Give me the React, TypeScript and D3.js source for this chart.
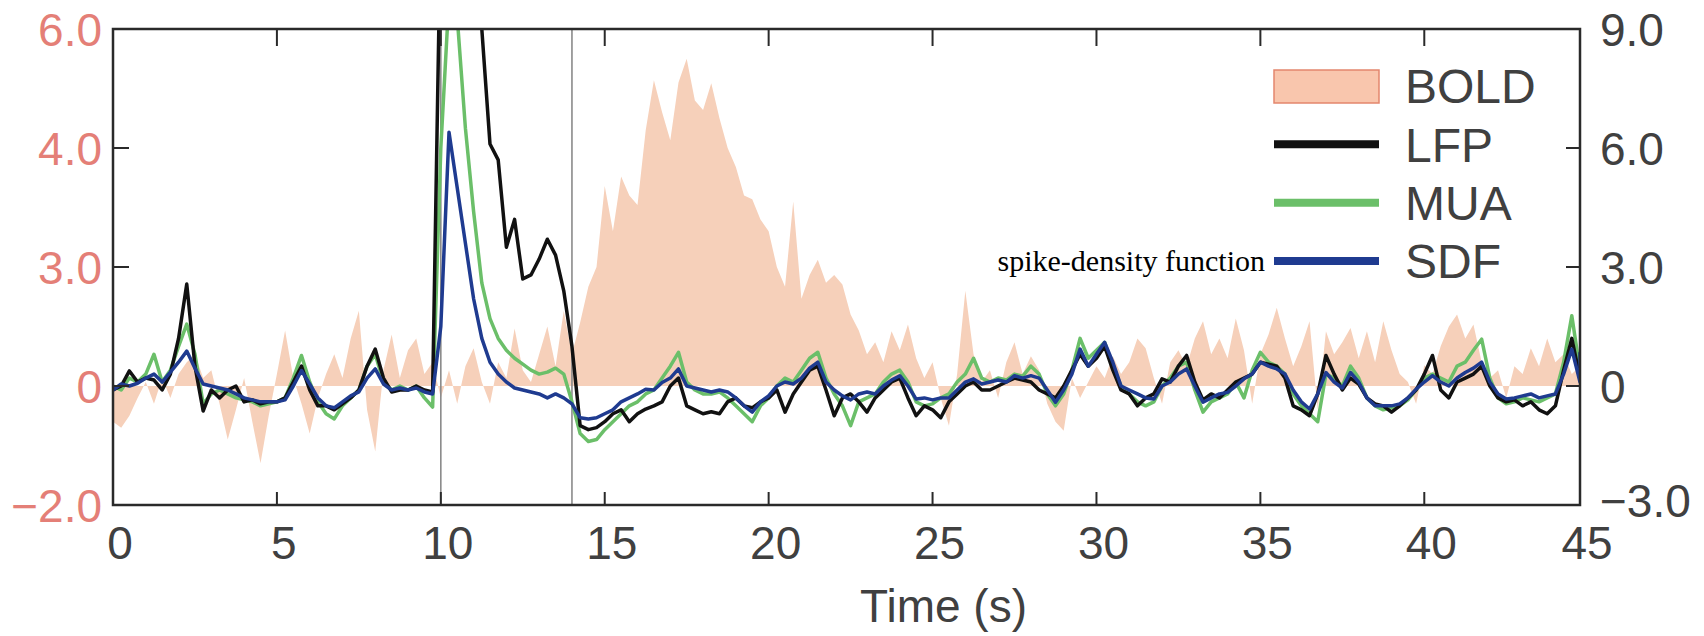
import React, { useEffect, useRef } from "react";
import * as d3 from "d3";

// samples every 0.25 s, t = 0 .. 45
const step = 0.25;

// BOLD, left axis units
const bold = [
  -0.6, -0.7, -0.5, -0.2, 0.1, -0.3, 0.2, -0.2, 0.3, 0.6, 0.8, 0.2, 0.4, -0.3, -0.9, -0.4, 0.2, -0.6, -1.3, -0.5,
  0.3, 1.4, 0.2, -0.3, -0.8, -0.2, 0.3, 0.8, 0.2, 1.2, 1.9, -0.4, -1.1, 0.4, 1.3, 0.2, 0.9, 1.2, 0.3, 0.6,
  -0.2, 0.4, -0.3, 0.5, 0.95, 0.1, -0.3, 0.6, 0.2, 1.45, 0.4, 0.1, 0.8, 1.5, 0.5, 1.9, 0.8, 1.6, 2.5, 3.0,
  3.68, 3.3, 3.76, 3.6, 3.52, 4.3, 5.14, 4.6, 4.13, 5.1, 5.5, 4.8, 4.64, 5.09, 4.5, 4.0, 3.84, 3.6, 3.57, 3.4,
  3.3, 3.0, 2.5, 3.55, 2.2, 2.8, 3.06, 2.6, 2.8, 2.56, 1.8, 1.4, 0.8, 1.1, 0.6, 1.38, 0.9, 1.55, 0.7, 0.2,
  0.6, -0.2, -0.67, 0.3, 2.4, 0.8, 0.1, 0.4, -0.2, 0.6, 1.1, 0.3, 0.75, 0.4, -0.3, -0.6, -0.75, 0.2, -0.2, 0.1,
  0.5, 0.2, 0.75, 0.3, 0.6, 1.2, 0.95, 0.2, -0.3, 0.6, 0.9, 0.5, 1.2, 1.63, 0.8, 1.2, 0.7, 1.7, 0.9, -0.3,
  0.8, 1.3, 1.97, 1.2, 0.5, 1.0, 1.63, -0.4, 1.38, 0.8, 1.1, 1.46, 0.7, 1.38, 0.6, 1.63, 0.9, 0.3, 0.1, -0.3,
  0.52, 0.3, 1.0, 1.5, 1.8, 1.2, 1.55, 0.6, 0.2, 0.4, -0.2, 0.5, 0.3, 0.95, 0.5, 1.2, 0.6, 0.8, 0.3, 0.5,
  0.2,
];

// neural signals, right axis units
const lfp = [
  -0.1, 0.0, 0.38, 0.1, 0.2, 0.15, -0.1, 0.3, 1.2, 2.57, 0.5, -0.63, -0.1, -0.3, -0.1, 0.0, -0.4, -0.35, -0.45, -0.4,
  -0.4, -0.3, 0.1, 0.5, -0.1, -0.5, -0.5, -0.6, -0.45, -0.3, -0.1, 0.5, 0.93, 0.2, -0.15, -0.1, -0.1, 0.0, -0.1, -0.15,
  12.0, 13.0, 12.5, 12.0, 11.0, 9.0, 6.1, 5.7, 3.5, 4.2, 2.7, 2.8, 3.2, 3.7, 3.3, 2.4, 1.0, -1.0, -1.1, -1.05,
  -0.9, -0.7, -0.6, -0.9, -0.7, -0.58, -0.5, -0.4, 0.0, 0.2, -0.5, -0.6, -0.7, -0.65, -0.7, -0.4, -0.3, -0.5, -0.55, -0.4,
  -0.3, -0.1, -0.66, -0.2, 0.1, 0.4, 0.5, -0.1, -0.75, -0.3, -0.2, -0.4, -0.66, -0.3, -0.1, 0.1, 0.2, -0.3, -0.75, -0.5,
  -0.6, -0.8, -0.4, -0.2, 0.0, 0.1, -0.1, -0.1, 0.0, 0.1, 0.2, 0.15, 0.1, -0.1, -0.2, -0.3, 0.0, 0.4, 0.8, 0.5,
  0.7, 1.0, 0.4, -0.1, -0.2, -0.5, -0.3, -0.2, 0.18, 0.1, 0.5, 0.77, 0.1, -0.35, -0.2, -0.3, -0.1, 0.1, 0.2, 0.3,
  0.6, 0.55, 0.5, 0.2, -0.5, -0.6, -0.75, -0.2, 0.77, 0.3, -0.1, 0.2, 0.05, -0.3, -0.45, -0.5, -0.66, -0.5, -0.3, -0.1,
  0.3, 0.77, -0.1, -0.3, 0.1, 0.2, 0.3, 0.5, 0.0, -0.3, -0.4, -0.35, -0.5, -0.4, -0.6, -0.7, -0.5, 0.4, 1.2, 0.2,
  0.4,
];

const mua = [
  0.0, -0.1, 0.2, 0.1, 0.3, 0.8, 0.1, 0.4, 1.0, 1.56, 0.8, -0.45, -0.2, -0.1, -0.2, -0.3, -0.35, -0.4, -0.5, -0.45,
  -0.4, -0.3, 0.2, 0.77, 0.1, -0.4, -0.7, -0.83, -0.5, -0.3, -0.1, 0.5, 0.8, 0.1, -0.1, 0.0, -0.1, 0.0, -0.3, -0.53,
  6.0, 9.8, 9.3, 6.5, 4.4, 2.6, 1.7, 1.2, 0.9, 0.7, 0.55, 0.4, 0.3, 0.35, 0.45, 0.3, -0.4, -1.2, -1.4, -1.35,
  -1.1, -0.9, -0.7, -0.5, -0.4, -0.2, -0.1, 0.2, 0.5, 0.85, 0.1, -0.1, -0.2, -0.2, -0.15, -0.3, -0.5, -0.7, -0.9, -0.5,
  -0.3, 0.0, 0.2, 0.1, 0.4, 0.7, 0.85, 0.2, -0.2, -0.5, -1.0, -0.4, -0.3, -0.2, 0.1, 0.3, 0.4, 0.1, -0.4, -0.5,
  -0.45, -0.3, -0.2, 0.1, 0.3, 0.7, 0.2, 0.1, 0.2, 0.15, 0.3, 0.25, 0.5, 0.3, -0.2, -0.5, -0.2, 0.4, 1.2, 0.7,
  0.9, 1.1, 0.5, 0.0, -0.2, -0.4, -0.5, -0.4, 0.0, 0.2, 0.5, 0.6, -0.1, -0.66, -0.4, -0.3, -0.2, 0.1, -0.3, 0.4,
  0.85, 0.6, 0.5, 0.3, -0.2, -0.5, -0.7, -0.9, 0.3, 0.2, 0.0, 0.5, 0.2, -0.3, -0.5, -0.6, -0.55, -0.5, -0.35, -0.1,
  0.2, 0.3, 0.2, 0.1, 0.5, 0.6, 0.9, 1.18, 0.2, -0.3, -0.45, -0.4, -0.3, -0.35, -0.4, -0.3, -0.2, 0.6, 1.77, 0.4,
  0.7,
];

const sdf = [
  -0.1, 0.05, 0.0, 0.07, 0.2, 0.3, 0.1, 0.35, 0.6, 0.88, 0.45, 0.05, 0.0, -0.05, -0.1, -0.2, -0.3, -0.35, -0.4, -0.4,
  -0.4, -0.35, 0.0, 0.39, 0.05, -0.3, -0.5, -0.55, -0.4, -0.25, -0.15, 0.2, 0.43, 0.05, -0.1, -0.05, -0.1, -0.05, -0.15, -0.2,
  1.5, 6.4, 5.0, 3.6, 2.2, 1.2, 0.6, 0.3, 0.1, -0.05, -0.1, -0.15, -0.2, -0.3, -0.2, -0.3, -0.45, -0.8, -0.83, -0.8,
  -0.7, -0.6, -0.4, -0.3, -0.2, -0.08, -0.1, 0.09, 0.2, 0.43, 0.0, -0.05, -0.1, -0.15, -0.1, -0.15, -0.3, -0.5, -0.66, -0.4,
  -0.25, 0.0, 0.1, 0.05, 0.2, 0.45, 0.6, 0.1, -0.1, -0.25, -0.35, -0.2, -0.15, -0.2, 0.0, 0.15, 0.26, 0.0, -0.33, -0.3,
  -0.35, -0.3, -0.3, -0.1, 0.1, 0.18, 0.05, 0.1, 0.15, 0.1, 0.26, 0.2, 0.26, 0.2, -0.1, -0.41, -0.1, 0.3, 0.93, 0.5,
  0.8, 1.1, 0.6, 0.0, -0.1, -0.2, -0.3, -0.33, 0.0, 0.1, 0.3, 0.43, 0.0, -0.41, -0.3, -0.2, -0.16, 0.0, 0.18, 0.3,
  0.6, 0.5, 0.43, 0.3, -0.1, -0.4, -0.58, -0.2, 0.34, 0.1, -0.05, 0.34, 0.1, -0.3, -0.5, -0.5, -0.5, -0.45, -0.3, -0.08,
  0.1, 0.26, 0.1, 0.0, 0.2, 0.34, 0.45, 0.6, 0.1, -0.2, -0.33, -0.3, -0.25, -0.2, -0.3, -0.25, -0.2, 0.3, 0.93, 0.1,
  0.85,
];

const xTicks = [0, 5, 10, 15, 20, 25, 30, 35, 40, 45];
const leftTicks = [-2, 0, 3, 4, 6];
const rightTicks = [-3, 0, 3, 6, 9];
const stimulus = [10, 14];
const legendNames = ["BOLD", "LFP", "MUA", "SDF"];

const colors = {
  bold: "#f6d0ba",
  boldEdge: "#e3866d",
  lfp: "#111111",
  mua: "#6bbf69",
  sdf: "#1f3b90",
  leftText: "#e47f77",
  text: "#404040",
  axis: "#2a2a2a",
};

const W = 1704;
const H = 636;
const box = { left: 113, right: 1580, top: 29, bottom: 505 };
const sans = "'Liberation Sans', Arial, Helvetica, sans-serif";

export default function App() {
  const ref = useRef<SVGSVGElement>(null);

  useEffect(() => {
    const svg = d3.select(ref.current);
    svg.selectAll("*").remove();

    const x = d3.scaleLinear().domain([0, 44.75]).range([box.left, box.right]).clamp(true);
    const yR = d3.scaleLinear().domain([-3, 9]).range([box.bottom, box.top]);
    // left axis labels are not evenly spaced in value, but share the right axis tick rows
    const yL = d3.scaleLinear().domain(leftTicks).range(rightTicks.map((v) => yR(v)));
    const fmt = (v: number) => (v === 0 ? "0" : d3.format(".1f")(v));

    svg
      .append("defs")
      .append("clipPath")
      .attr("id", "plotclip")
      .append("rect")
      .attr("x", box.left)
      .attr("y", box.top)
      .attr("width", box.right - box.left)
      .attr("height", box.bottom - box.top);

    const plot = svg.append("g").attr("clip-path", "url(#plotclip)");

    // BOLD area from zero
    const area = d3
      .area<number>()
      .x((d, i) => x(i * step))
      .y0(yL(0))
      .y1((d) => yL(d));
    plot.append("path").datum(bold).attr("d", area).attr("fill", colors.bold);

    // stimulus on / off
    plot
      .selectAll("line.stim")
      .data(stimulus)
      .join("line")
      .attr("x1", (d) => x(d))
      .attr("x2", (d) => x(d))
      .attr("y1", box.top)
      .attr("y2", box.bottom)
      .attr("stroke", "#8a8a8a")
      .attr("stroke-width", 1.6);

    const line = d3
      .line<number>()
      .x((d, i) => x(i * step))
      .y((d) => yR(d));

    const series: [number[], string][] = [
      [mua, colors.mua],
      [lfp, colors.lfp],
      [sdf, colors.sdf],
    ];
    series.forEach(([data, c]) => {
      plot
        .append("path")
        .datum(data)
        .attr("d", line)
        .attr("fill", "none")
        .attr("stroke", c)
        .attr("stroke-width", 3.5)
        .attr("stroke-linejoin", "round");
    });

    // frame
    svg
      .append("rect")
      .attr("x", box.left)
      .attr("y", box.top)
      .attr("width", box.right - box.left)
      .attr("height", box.bottom - box.top)
      .attr("fill", "none")
      .attr("stroke", colors.axis)
      .attr("stroke-width", 2.5);

    const ticks = svg.append("g").attr("stroke", colors.axis).attr("stroke-width", 2);
    const inner = xTicks.filter((v) => v > 0 && v < 45);
    ticks
      .selectAll("line.xb")
      .data(inner)
      .join("line")
      .attr("x1", (d) => x(d))
      .attr("x2", (d) => x(d))
      .attr("y1", box.bottom)
      .attr("y2", box.bottom - 13);
    ticks
      .selectAll("line.xt")
      .data(inner)
      .join("line")
      .attr("class", "xt")
      .attr("x1", (d) => x(d))
      .attr("x2", (d) => x(d))
      .attr("y1", box.top)
      .attr("y2", box.top + 17);
    ticks
      .selectAll("line.yl")
      .data(leftTicks.slice(1, -1))
      .join("line")
      .attr("class", "yl")
      .attr("x1", box.left)
      .attr("x2", box.left + 16)
      .attr("y1", (d) => yL(d))
      .attr("y2", (d) => yL(d));
    ticks
      .selectAll("line.yr")
      .data(rightTicks.slice(1, -1))
      .join("line")
      .attr("class", "yr")
      .attr("x1", box.right)
      .attr("x2", box.right - 14)
      .attr("y1", (d) => yR(d))
      .attr("y2", (d) => yR(d));

    // tick labels
    svg
      .append("g")
      .selectAll("text")
      .data(leftTicks)
      .join("text")
      .attr("x", box.left - 11)
      .attr("y", (d) => yL(d))
      .attr("dy", "0.36em")
      .attr("text-anchor", "end")
      .attr("font-family", sans)
      .attr("font-size", 46)
      .attr("fill", colors.leftText)
      .text(fmt);

    svg
      .append("g")
      .selectAll("text")
      .data(rightTicks)
      .join("text")
      .attr("x", box.right + 20)
      .attr("y", (d) => yR(d))
      .attr("dy", (d) => (d === -3 ? "0.26em" : "0.36em"))
      .attr("text-anchor", "start")
      .attr("font-family", sans)
      .attr("font-size", 46)
      .attr("fill", colors.text)
      .text(fmt);

    svg
      .append("g")
      .selectAll("text")
      .data(xTicks)
      .join("text")
      .attr("x", (d) => x(d) + 7)
      .attr("y", 559)
      .attr("text-anchor", "middle")
      .attr("font-family", sans)
      .attr("font-size", 46)
      .attr("fill", colors.text)
      .text((d) => String(d));

    svg
      .append("text")
      .attr("x", (box.left + box.right) / 2 + 97)
      .attr("y", 622)
      .attr("text-anchor", "middle")
      .attr("font-family", sans)
      .attr("font-size", 46)
      .attr("fill", colors.text)
      .text("Time (s)");

    // legend
    const row = d3.scalePoint().domain(legendNames).range([86, 261]);
    const lg = svg.append("g");
    const swX = 1274;
    const swW = 105;
    lg.append("rect")
      .attr("x", swX)
      .attr("y", row("BOLD")! - 16)
      .attr("width", swW)
      .attr("height", 33)
      .attr("fill", "#f9c6ad")
      .attr("stroke", colors.boldEdge)
      .attr("stroke-width", 1.5);
    const legendLines: [string, string][] = [
      ["LFP", colors.lfp],
      ["MUA", colors.mua],
      ["SDF", colors.sdf],
    ];
    legendLines.forEach(([name, c]) => {
      lg.append("line")
        .attr("x1", swX)
        .attr("x2", swX + swW)
        .attr("y1", row(name)!)
        .attr("y2", row(name)!)
        .attr("stroke", c)
        .attr("stroke-width", 8);
    });
    lg.selectAll("text")
      .data(legendNames)
      .join("text")
      .attr("x", 1405)
      .attr("y", (d) => row(d)!)
      .attr("dy", "0.36em")
      .attr("font-family", sans)
      .attr("font-size", 48)
      .attr("fill", colors.text)
      .text((d) => d);

    svg
      .append("text")
      .attr("x", 1265)
      .attr("y", 271)
      .attr("text-anchor", "end")
      .attr("font-family", "'Liberation Serif', 'Times New Roman', serif")
      .attr("font-size", 30)
      .attr("fill", "#000")
      .text("spike-density function");
  }, []);

  return (
    <svg
      ref={ref}
      width={W}
      height={H}
      style={{ position: "absolute", left: 0, top: 0, background: "#fff" }}
    />
  );
}
